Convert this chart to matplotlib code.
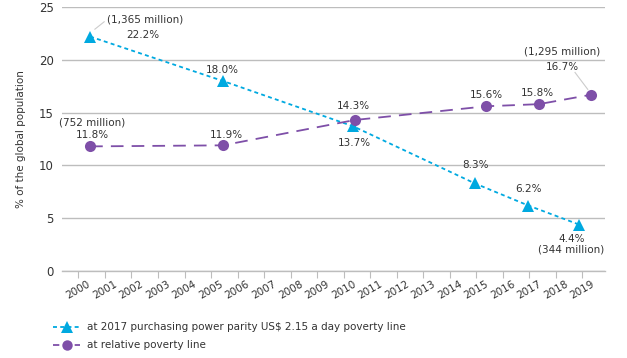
import numpy as np
import matplotlib.pyplot as plt
from matplotlib.lines import Line2D

years = list(range(2000, 2020))

# extreme poverty (US$ 2.15 a day) -- x positions as drawn in the source chart
ppp_x = [2000.44, 2005.44, 2010.36, 2014.94, 2016.96, 2018.87]
ppp_y = [22.2, 18.0, 13.7, 8.3, 6.2, 4.4]
ppp_labels = ["22.2%", "18.0%", "13.7%", "8.3%", "6.2%", "4.4%"]

# relative poverty line
rel_x = [2000.44, 2005.44, 2010.42, 2015.38, 2017.36, 2019.34]
rel_y = [11.8, 11.9, 14.3, 15.6, 15.8, 16.7]
rel_labels = ["11.8%", "11.9%", "14.3%", "15.6%", "15.8%", "16.7%"]

cyan = "#00A9E0"
purple = "#7E4FA8"
txt = "#333333"
grid_c = "#BDBDBD"

plt.rcParams['font.family'] = ['DejaVu Sans']

fig = plt.figure(figsize=(6.27, 3.58), dpi=100)
ax = fig.add_axes([62 / 627, 1 - 271 / 358, (605 - 62) / 627, (271 - 7) / 358])

ax.plot(ppp_x, ppp_y, color=cyan, lw=1.3, linestyle=(0, (2.2, 1.8)),
        marker="^", markersize=9, markeredgewidth=0, zorder=3)
ax.plot(rel_x, rel_y, color=purple, lw=1.3, linestyle=(0, (7, 4.5)),
        marker="o", markersize=8, markeredgewidth=0, zorder=3)

ax.set_ylim(0, 25)
ax.set_xlim(1999.38, 2019.85)
ax.set_yticks(np.arange(0, 26, 5))
ax.set_xticks(years)
ax.set_xticklabels([str(y) for y in years], rotation=30, fontsize=7.5, color=txt)
ax.tick_params(axis="y", length=0, labelsize=8.5, labelcolor=txt, pad=6)
ax.tick_params(axis="x", length=5, color=grid_c, pad=1)
ax.grid(axis="y", color=grid_c, lw=1)
ax.set_axisbelow(True)
for s in ["top", "right", "left"]:
    ax.spines[s].set_visible(False)
ax.spines["bottom"].set_color(grid_c)
ax.spines["bottom"].set_linewidth(1)
ax.set_ylabel("% of the global population", fontsize=7.5, color=txt, labelpad=9)

fs = 7.5
# value labels, offsets (dx, dy) from each point
ppp_off = [(2.0, 0.15), (0, 1.03), (0.06, -1.58), (0.03, 1.74), (0.01, 1.57), (-0.28, -1.37)]
for x, y, lab, (dx, dy) in zip(ppp_x, ppp_y, ppp_labels, ppp_off):
    ax.text(x + dx, y + dy, lab, ha="center", va="center", fontsize=fs, color=txt)
rel_off = [(0.07, 1.08), (0.12, 0.98), (-0.04, 1.33), (0.01, 1.07), (-0.05, 1.06), (-1.09, 2.62)]
for x, y, lab, (dx, dy) in zip(rel_x, rel_y, rel_labels, rel_off):
    ax.text(x + dx, y + dy, lab, ha="center", va="center", fontsize=fs, color=txt)

# population annotations
ax.text(2001.07, 23.77, "(1,365 million)", ha="left", va="center", fontsize=fs, color=txt)
ax.plot([2000.62, 2000.97], [22.9, 23.6], color="#CCCCCC", lw=0.8)
ax.text(2000.51, 14.02, "(752 million)", ha="center", va="center", fontsize=fs, color=txt)
ax.text(2018.25, 20.74, "(1,295 million)", ha="center", va="center", fontsize=fs, color=txt)
ax.plot([2018.72, 2019.2], [18.8, 17.2], color="#CCCCCC", lw=0.8)
ax.text(2018.59, 1.99, "(344 million)", ha="center", va="center", fontsize=fs, color=txt)

handles = [
    Line2D([], [], color=cyan, lw=1.3, linestyle=(0, (2.2, 1.8)), marker="^",
           markersize=8, markeredgewidth=0),
    Line2D([], [], color=purple, lw=1.3, linestyle=(0, (3.5, 2.5)), marker="o",
           markersize=7.5, markeredgewidth=0),
]
fig.legend(handles, ["at 2017 purchasing power parity US$ 2.15 a day poverty line",
                     "at relative poverty line"],
           loc="upper left", bbox_to_anchor=(44 / 627, 1 - 313 / 358), frameon=False,
           fontsize=7.5, handlelength=2.6, handletextpad=0.6, labelspacing=0.75,
           labelcolor=txt)

fig.savefig("out.png", dpi=100)
